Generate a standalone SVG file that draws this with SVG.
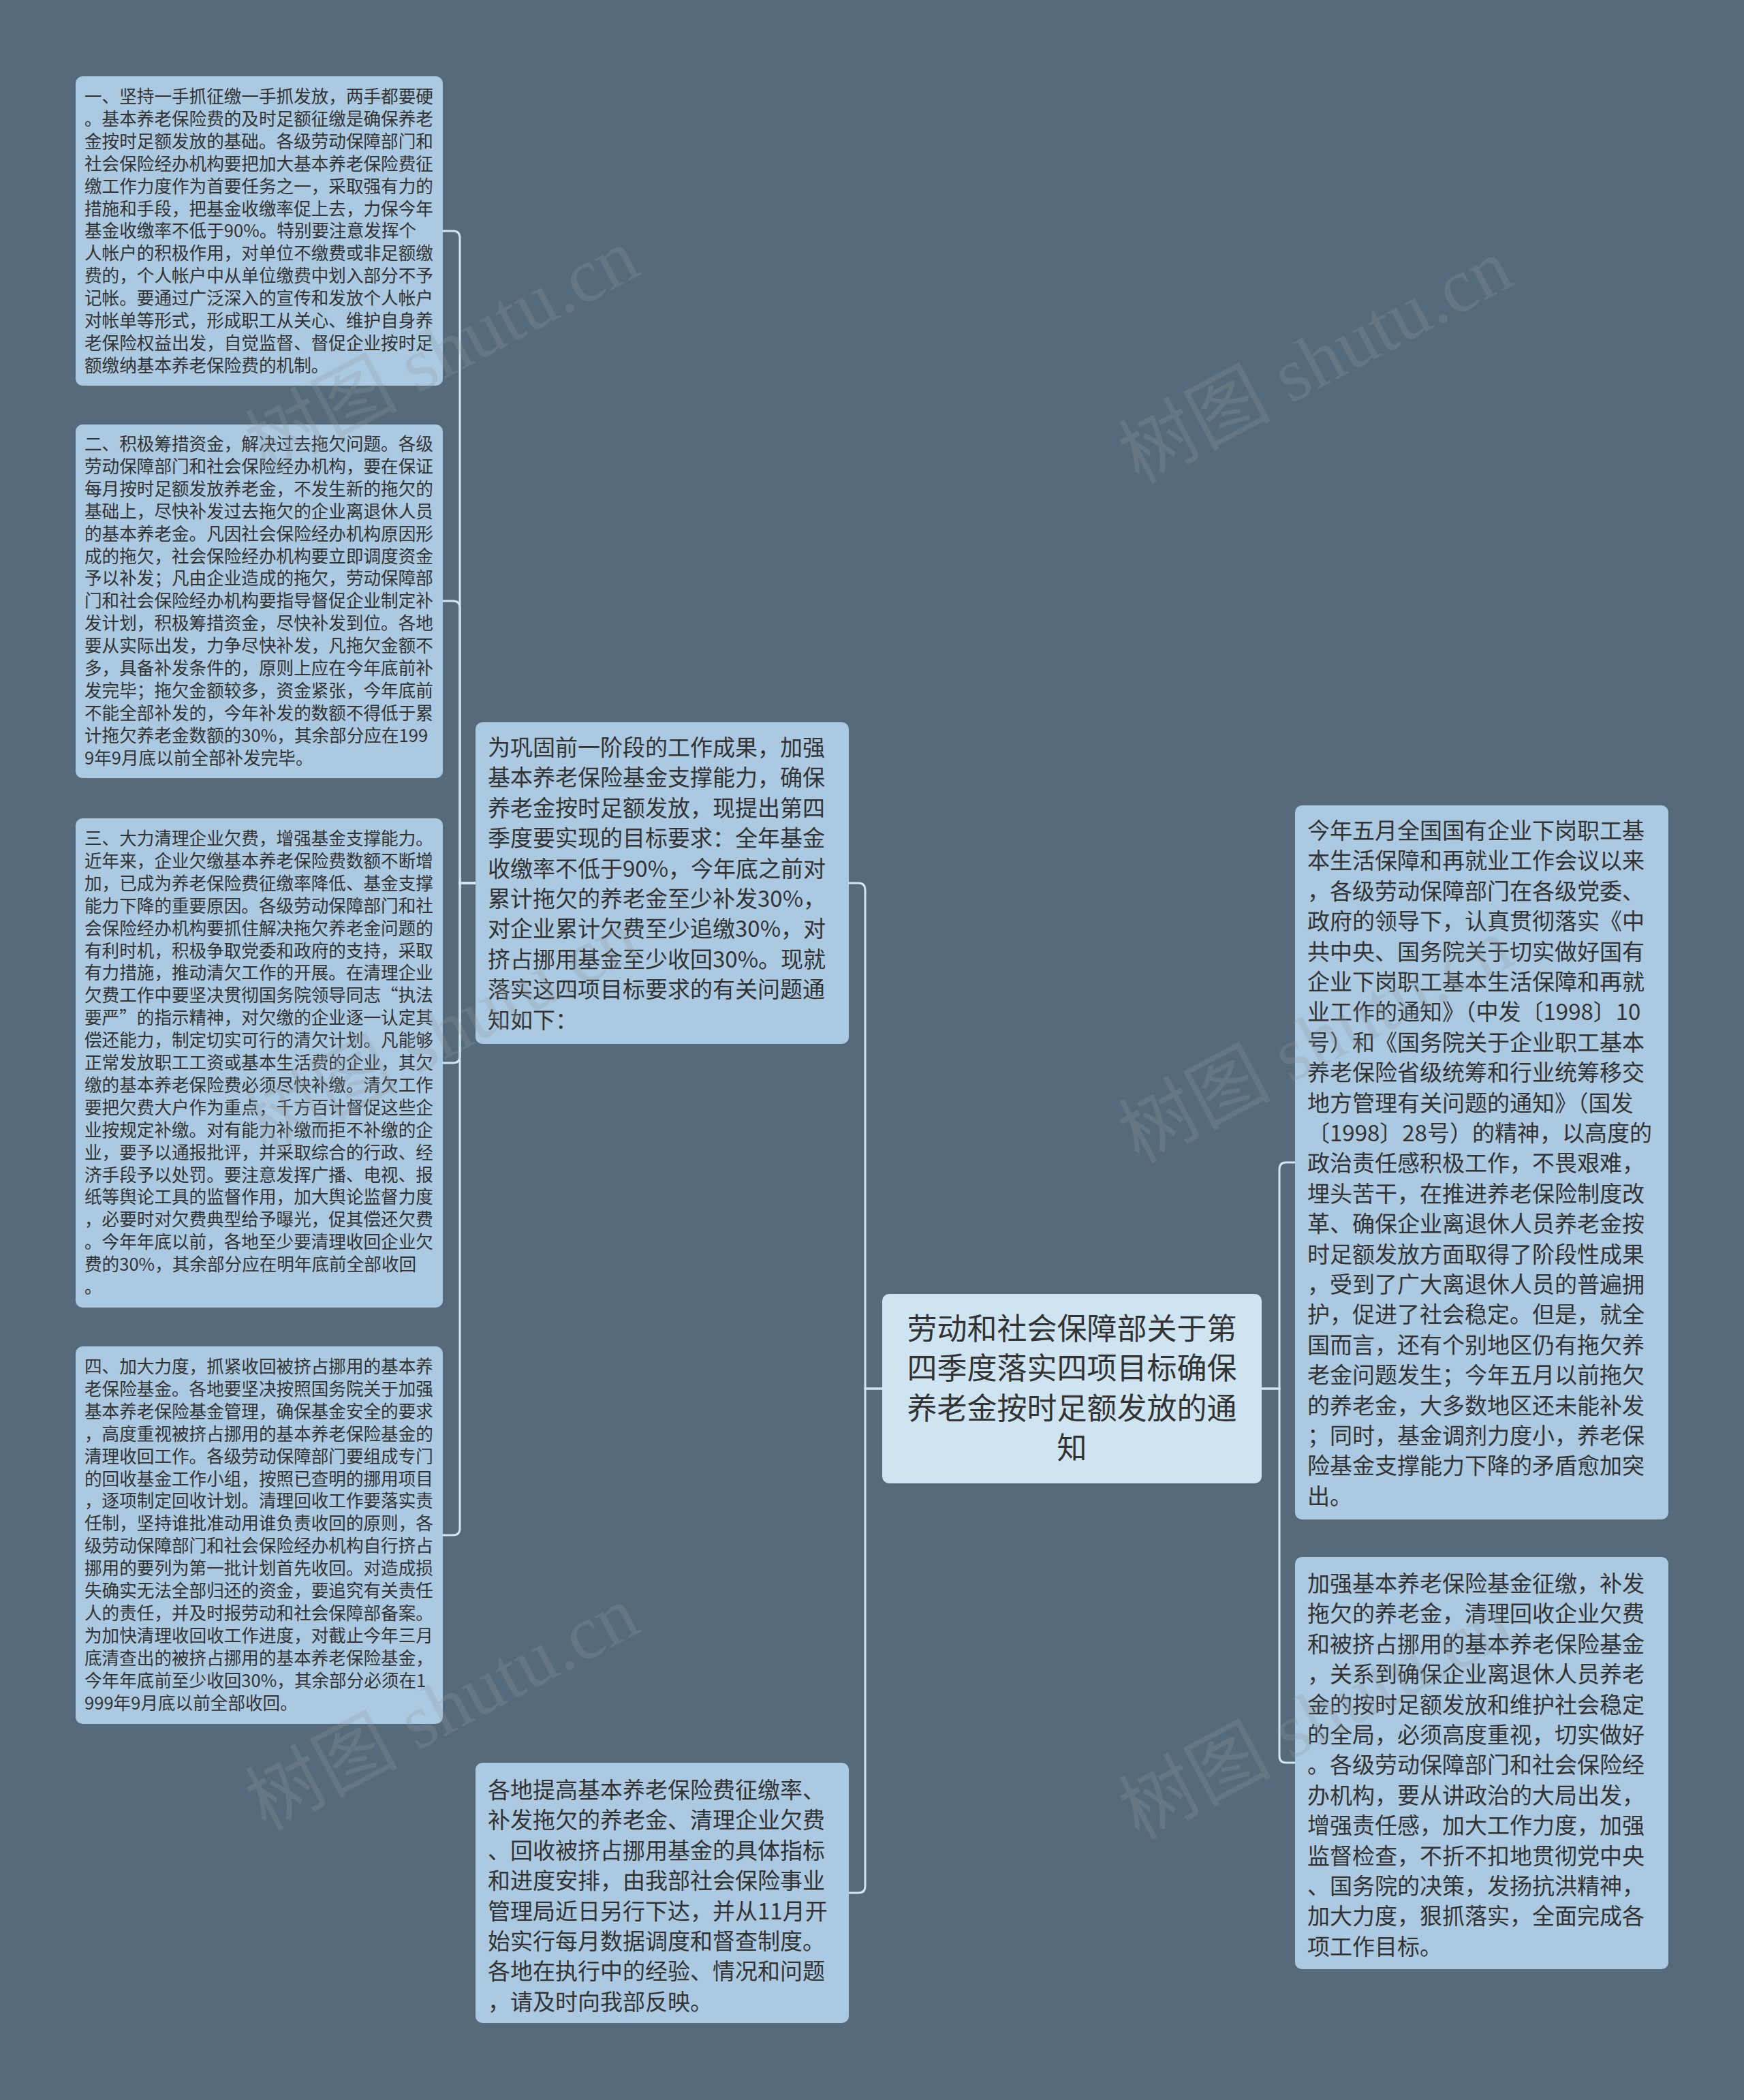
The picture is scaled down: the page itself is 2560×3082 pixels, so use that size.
<svg xmlns="http://www.w3.org/2000/svg" width="2560" height="3082" viewBox="0 0 2560 3082">
<style>
.box{fill:#abc9e1}
.root{fill:#cfe4f1}
.t{fill:#333333;font-family:"Noto Sans CJK SC","Noto Sans CJK TC",sans-serif}
.s{font-size:25.6px}
.m{font-size:33px}
.c{font-size:44px;text-anchor:middle}
.conn{fill:none;stroke:#cfe6f4;stroke-width:3}
.wm{fill:#8f9aa3;fill-opacity:0.28;font-family:"Liberation Serif","Noto Sans CJK SC",serif;font-size:112px;text-anchor:middle}
</style>
<rect x="0" y="0" width="2560" height="3082" fill="#556a7a"/>
<g id="connectors">
<path class="conn" d="M1295 2038 H1270 V1306 Q1270 1296 1260 1296 H1246"/>
<path class="conn" d="M1295 2038 H1270 V2768 Q1270 2778 1260 2778 H1246"/>
<path class="conn" d="M1852 2038 H1878 V1716 Q1878 1706 1888 1706 H1901"/>
<path class="conn" d="M1852 2038 H1878 V2577 Q1878 2587 1888 2587 H1901"/>
<path class="conn" d="M698 1296 H675 V349 Q675 339 665 339 H650"/>
<path class="conn" d="M698 1296 H675 V892 Q675 882 665 882 H650"/>
<path class="conn" d="M698 1296 H675 V1550 Q675 1560 665 1560 H650"/>
<path class="conn" d="M698 1296 H675 V2243 Q675 2253 665 2253 H650"/>
</g>
<g id="root">
<rect class="root" x="1295" y="1899" width="557" height="278" rx="10"/>
<text class="t c" x="1573.5" y="1966"><tspan x="1573.5" dy="0">劳动和社会保障部关于第</tspan><tspan x="1573.5" dy="58.4">四季度落实四项目标确保</tspan><tspan x="1573.5" dy="58.4">养老金按时足额发放的通</tspan><tspan x="1573.5" dy="58.4">知</tspan></text>
</g>
<g id="mid-top">
<rect class="box" x="698" y="1060" width="548" height="472" rx="10"/>
<text class="t m" x="716" y="1109"><tspan x="716" dy="0">为巩固前一阶段的工作成果，加强</tspan><tspan x="716" dy="44.4">基本养老保险基金支撑能力，确保</tspan><tspan x="716" dy="44.4">养老金按时足额发放，现提出第四</tspan><tspan x="716" dy="44.4">季度要实现的目标要求：全年基金</tspan><tspan x="716" dy="44.4">收缴率不低于90%，今年底之前对</tspan><tspan x="716" dy="44.4">累计拖欠的养老金至少补发30%，</tspan><tspan x="716" dy="44.4">对企业累计欠费至少追缴30%，对</tspan><tspan x="716" dy="44.4">挤占挪用基金至少收回30%。现就</tspan><tspan x="716" dy="44.4">落实这四项目标要求的有关问题通</tspan><tspan x="716" dy="44.4">知如下：</tspan></text>
</g>
<g id="mid-bottom">
<rect class="box" x="698" y="2587" width="548" height="382" rx="10"/>
<text class="t m" x="716" y="2639"><tspan x="716" dy="0">各地提高基本养老保险费征缴率、</tspan><tspan x="716" dy="44.4">补发拖欠的养老金、清理企业欠费</tspan><tspan x="716" dy="44.4">、回收被挤占挪用基金的具体指标</tspan><tspan x="716" dy="44.4">和进度安排，由我部社会保险事业</tspan><tspan x="716" dy="44.4">管理局近日另行下达，并从11月开</tspan><tspan x="716" dy="44.4">始实行每月数据调度和督查制度。</tspan><tspan x="716" dy="44.4">各地在执行中的经验、情况和问题</tspan><tspan x="716" dy="44.4">，请及时向我部反映。</tspan></text>
</g>
<g id="leaf-1">
<rect class="box" x="111" y="112" width="539" height="454" rx="10"/>
<text class="t s" x="124" y="151"><tspan x="124" dy="0">一、坚持一手抓征缴一手抓发放，两手都要硬</tspan><tspan x="124" dy="32.9">。基本养老保险费的及时足额征缴是确保养老</tspan><tspan x="124" dy="32.9">金按时足额发放的基础。各级劳动保障部门和</tspan><tspan x="124" dy="32.9">社会保险经办机构要把加大基本养老保险费征</tspan><tspan x="124" dy="32.9">缴工作力度作为首要任务之一，采取强有力的</tspan><tspan x="124" dy="32.9">措施和手段，把基金收缴率促上去，力保今年</tspan><tspan x="124" dy="32.9">基金收缴率不低于90%。特别要注意发挥个</tspan><tspan x="124" dy="32.9">人帐户的积极作用，对单位不缴费或非足额缴</tspan><tspan x="124" dy="32.9">费的，个人帐户中从单位缴费中划入部分不予</tspan><tspan x="124" dy="32.9">记帐。要通过广泛深入的宣传和发放个人帐户</tspan><tspan x="124" dy="32.9">对帐单等形式，形成职工从关心、维护自身养</tspan><tspan x="124" dy="32.9">老保险权益出发，自觉监督、督促企业按时足</tspan><tspan x="124" dy="32.9">额缴纳基本养老保险费的机制。</tspan></text>
</g>
<g id="leaf-2">
<rect class="box" x="111" y="623" width="539" height="519" rx="10"/>
<text class="t s" x="124" y="661"><tspan x="124" dy="0">二、积极筹措资金，解决过去拖欠问题。各级</tspan><tspan x="124" dy="32.9">劳动保障部门和社会保险经办机构，要在保证</tspan><tspan x="124" dy="32.9">每月按时足额发放养老金，不发生新的拖欠的</tspan><tspan x="124" dy="32.9">基础上，尽快补发过去拖欠的企业离退休人员</tspan><tspan x="124" dy="32.9">的基本养老金。凡因社会保险经办机构原因形</tspan><tspan x="124" dy="32.9">成的拖欠，社会保险经办机构要立即调度资金</tspan><tspan x="124" dy="32.9">予以补发；凡由企业造成的拖欠，劳动保障部</tspan><tspan x="124" dy="32.9">门和社会保险经办机构要指导督促企业制定补</tspan><tspan x="124" dy="32.9">发计划，积极筹措资金，尽快补发到位。各地</tspan><tspan x="124" dy="32.9">要从实际出发，力争尽快补发，凡拖欠金额不</tspan><tspan x="124" dy="32.9">多，具备补发条件的，原则上应在今年底前补</tspan><tspan x="124" dy="32.9">发完毕；拖欠金额较多，资金紧张，今年底前</tspan><tspan x="124" dy="32.9">不能全部补发的，今年补发的数额不得低于累</tspan><tspan x="124" dy="32.9">计拖欠养老金数额的30%，其余部分应在199</tspan><tspan x="124" dy="32.9">9年9月底以前全部补发完毕。</tspan></text>
</g>
<g id="leaf-3">
<rect class="box" x="111" y="1201" width="539" height="718" rx="10"/>
<text class="t s" x="124" y="1240"><tspan x="124" dy="0">三、大力清理企业欠费，增强基金支撑能力。</tspan><tspan x="124" dy="32.9">近年来，企业欠缴基本养老保险费数额不断增</tspan><tspan x="124" dy="32.9">加，已成为养老保险费征缴率降低、基金支撑</tspan><tspan x="124" dy="32.9">能力下降的重要原因。各级劳动保障部门和社</tspan><tspan x="124" dy="32.9">会保险经办机构要抓住解决拖欠养老金问题的</tspan><tspan x="124" dy="32.9">有利时机，积极争取党委和政府的支持，采取</tspan><tspan x="124" dy="32.9">有力措施，推动清欠工作的开展。在清理企业</tspan><tspan x="124" dy="32.9">欠费工作中要坚决贯彻国务院领导同志“执法</tspan><tspan x="124" dy="32.9">要严”的指示精神，对欠缴的企业逐一认定其</tspan><tspan x="124" dy="32.9">偿还能力，制定切实可行的清欠计划。凡能够</tspan><tspan x="124" dy="32.9">正常发放职工工资或基本生活费的企业，其欠</tspan><tspan x="124" dy="32.9">缴的基本养老保险费必须尽快补缴。清欠工作</tspan><tspan x="124" dy="32.9">要把欠费大户作为重点，千方百计督促这些企</tspan><tspan x="124" dy="32.9">业按规定补缴。对有能力补缴而拒不补缴的企</tspan><tspan x="124" dy="32.9">业，要予以通报批评，并采取综合的行政、经</tspan><tspan x="124" dy="32.9">济手段予以处罚。要注意发挥广播、电视、报</tspan><tspan x="124" dy="32.9">纸等舆论工具的监督作用，加大舆论监督力度</tspan><tspan x="124" dy="32.9">，必要时对欠费典型给予曝光，促其偿还欠费</tspan><tspan x="124" dy="32.9">。今年年底以前，各地至少要清理收回企业欠</tspan><tspan x="124" dy="32.9">费的30%，其余部分应在明年底前全部收回</tspan><tspan x="124" dy="32.9">。</tspan></text>
</g>
<g id="leaf-4">
<rect class="box" x="111" y="1976" width="539" height="554" rx="10"/>
<text class="t s" x="124" y="2015"><tspan x="124" dy="0">四、加大力度，抓紧收回被挤占挪用的基本养</tspan><tspan x="124" dy="32.9">老保险基金。各地要坚决按照国务院关于加强</tspan><tspan x="124" dy="32.9">基本养老保险基金管理，确保基金安全的要求</tspan><tspan x="124" dy="32.9">，高度重视被挤占挪用的基本养老保险基金的</tspan><tspan x="124" dy="32.9">清理收回工作。各级劳动保障部门要组成专门</tspan><tspan x="124" dy="32.9">的回收基金工作小组，按照已查明的挪用项目</tspan><tspan x="124" dy="32.9">，逐项制定回收计划。清理回收工作要落实责</tspan><tspan x="124" dy="32.9">任制，坚持谁批准动用谁负责收回的原则，各</tspan><tspan x="124" dy="32.9">级劳动保障部门和社会保险经办机构自行挤占</tspan><tspan x="124" dy="32.9">挪用的要列为第一批计划首先收回。对造成损</tspan><tspan x="124" dy="32.9">失确实无法全部归还的资金，要追究有关责任</tspan><tspan x="124" dy="32.9">人的责任，并及时报劳动和社会保障部备案。</tspan><tspan x="124" dy="32.9">为加快清理收回收工作进度，对截止今年三月</tspan><tspan x="124" dy="32.9">底清查出的被挤占挪用的基本养老保险基金，</tspan><tspan x="124" dy="32.9">今年年底前至少收回30%，其余部分必须在1</tspan><tspan x="124" dy="32.9">999年9月底以前全部收回。</tspan></text>
</g>
<g id="right-1">
<rect class="box" x="1901" y="1182" width="548" height="1048" rx="10"/>
<text class="t m" x="1919" y="1231"><tspan x="1919" dy="0">今年五月全国国有企业下岗职工基</tspan><tspan x="1919" dy="44.4">本生活保障和再就业工作会议以来</tspan><tspan x="1919" dy="44.4">，各级劳动保障部门在各级党委、</tspan><tspan x="1919" dy="44.4">政府的领导下，认真贯彻落实《中</tspan><tspan x="1919" dy="44.4">共中央、国务院关于切实做好国有</tspan><tspan x="1919" dy="44.4">企业下岗职工基本生活保障和再就</tspan><tspan x="1919" dy="44.4">业工作的通知》（中发〔1998〕10</tspan><tspan x="1919" dy="44.4">号）和《国务院关于企业职工基本</tspan><tspan x="1919" dy="44.4">养老保险省级统筹和行业统筹移交</tspan><tspan x="1919" dy="44.4">地方管理有关问题的通知》（国发</tspan><tspan x="1919" dy="44.4">〔1998〕28号）的精神，以高度的</tspan><tspan x="1919" dy="44.4">政治责任感积极工作，不畏艰难，</tspan><tspan x="1919" dy="44.4">埋头苦干，在推进养老保险制度改</tspan><tspan x="1919" dy="44.4">革、确保企业离退休人员养老金按</tspan><tspan x="1919" dy="44.4">时足额发放方面取得了阶段性成果</tspan><tspan x="1919" dy="44.4">，受到了广大离退休人员的普遍拥</tspan><tspan x="1919" dy="44.4">护，促进了社会稳定。但是，就全</tspan><tspan x="1919" dy="44.4">国而言，还有个别地区仍有拖欠养</tspan><tspan x="1919" dy="44.4">老金问题发生；今年五月以前拖欠</tspan><tspan x="1919" dy="44.4">的养老金，大多数地区还未能补发</tspan><tspan x="1919" dy="44.4">；同时，基金调剂力度小，养老保</tspan><tspan x="1919" dy="44.4">险基金支撑能力下降的矛盾愈加突</tspan><tspan x="1919" dy="44.4">出。</tspan></text>
</g>
<g id="right-2">
<rect class="box" x="1901" y="2285" width="548" height="605" rx="10"/>
<text class="t m" x="1919" y="2336"><tspan x="1919" dy="0">加强基本养老保险基金征缴，补发</tspan><tspan x="1919" dy="44.4">拖欠的养老金，清理回收企业欠费</tspan><tspan x="1919" dy="44.4">和被挤占挪用的基本养老保险基金</tspan><tspan x="1919" dy="44.4">，关系到确保企业离退休人员养老</tspan><tspan x="1919" dy="44.4">金的按时足额发放和维护社会稳定</tspan><tspan x="1919" dy="44.4">的全局，必须高度重视，切实做好</tspan><tspan x="1919" dy="44.4">。各级劳动保障部门和社会保险经</tspan><tspan x="1919" dy="44.4">办机构，要从讲政治的大局出发，</tspan><tspan x="1919" dy="44.4">增强责任感，加大工作力度，加强</tspan><tspan x="1919" dy="44.4">监督检查，不折不扣地贯彻党中央</tspan><tspan x="1919" dy="44.4">、国务院的决策，发扬抗洪精神，</tspan><tspan x="1919" dy="44.4">加大力度，狠抓落实，全面完成各</tspan><tspan x="1919" dy="44.4">项工作目标。</tspan></text>
</g>
<g id="watermark">
<text class="wm" x="649" y="553" transform="rotate(-28 649 515)">树图 shutu.cn</text>
<text class="wm" x="1931" y="568" transform="rotate(-28 1931 530)">树图 shutu.cn</text>
<text class="wm" x="649" y="1552" transform="rotate(-28 649 1514)">树图 shutu.cn</text>
<text class="wm" x="1931" y="1565" transform="rotate(-28 1931 1527)">树图 shutu.cn</text>
<text class="wm" x="649" y="2545" transform="rotate(-28 649 2507)">树图 shutu.cn</text>
<text class="wm" x="1931" y="2558" transform="rotate(-28 1931 2520)">树图 shutu.cn</text>
</g>
</svg>
